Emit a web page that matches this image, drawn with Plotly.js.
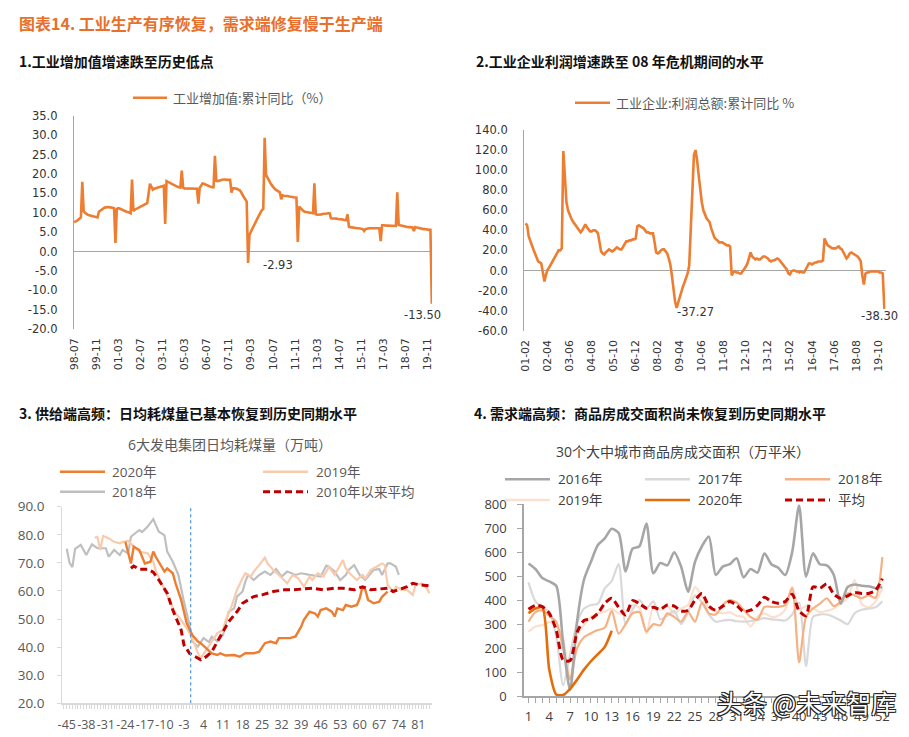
<!DOCTYPE html>
<html><head><meta charset="utf-8">
<script src="https://cdn.plot.ly/plotly-3.0.1.min.js"></script>
<style>html,body{margin:0;padding:0;background:#fff}#chart{width:909px;height:737px}</style>
</head><body><div id="chart"></div>
<script>
const W = 909, H = 737;
const px = x => x / W, py = y => 1 - y / H;

// ---------- Panel 1: 工业增加值:累计同比 (monthly, 1998-07 .. 2020-02)
const p1TickText = ['98-07','99-11','01-03','02-07','03-11','05-03','06-07','07-11','09-03','10-07','11-11','13-03','14-07','15-11','17-03','18-07','19-11'];
const p1Values = [
 7.6,7.7,7.9,8.2,8.5,8.8,
 18.0,
 10.4,10.0,9.7,9.5,9.4,9.3,9.3,9.1,9.0,8.9,8.8,
 10.3,10.6,10.9,11.1,11.3,11.4,11.5,11.5,11.4,11.4,11.3,11.2,
 2.2,
 11.0,11.2,11.1,10.9,10.8,10.6,10.5,10.3,10.2,10.0,9.9,
 18.6,
 10.5,10.8,11.0,11.2,11.4,11.6,11.8,11.9,12.1,12.3,12.5,
 15.0,17.5,16.8,16.0,16.2,16.3,16.4,16.5,16.6,16.7,16.8,17.0,
 7.1,
 18.2,18.0,17.8,17.5,17.3,17.2,17.0,16.8,16.7,16.6,16.5,
 20.9,
 16.5,16.3,16.3,16.2,16.2,16.2,16.3,16.3,16.3,16.2,16.2,
 12.4,
 16.5,17.0,17.6,17.5,17.3,17.2,17.0,16.9,16.7,16.6,16.6,
 24.7,
 18.3,18.2,18.3,18.5,18.5,18.6,18.6,18.5,18.5,18.5,18.5,
 15.2,16.3,16.3,16.3,16.2,16.0,15.8,15.3,14.5,14.0,13.5,12.9,
 -2.93,
 4.3,5.1,5.9,6.6,7.3,8.0,8.7,9.4,10.1,10.7,11.0,
 29.4,
 19.8,19.0,18.5,17.8,17.2,16.6,16.3,16.0,15.7,15.5,15.3,
 13.5,
 14.5,14.4,14.4,14.3,14.3,14.2,14.2,14.1,14.0,13.9,13.9,
 2.5,
 11.6,11.2,10.8,10.5,10.3,10.2,10.1,10.0,9.9,9.9,9.9,
 17.6,
 9.6,9.5,9.5,9.6,9.6,9.7,9.7,9.8,9.8,9.9,9.9,
 8.6,8.6,8.5,8.5,8.5,8.4,8.4,8.3,8.3,8.2,8.2,8.1,
 9.6,
 6.4,6.3,6.2,6.2,6.1,6.1,6.0,6.0,5.9,5.9,5.8,
 5.3,
 5.8,5.9,6.0,6.0,6.0,6.0,6.0,6.0,6.0,6.0,6.0,
 2.7,
 6.8,6.8,6.7,6.7,6.7,6.7,6.6,6.6,6.6,6.6,6.6,
 15.3,
 6.9,6.8,6.7,6.6,6.5,6.4,6.4,6.3,6.3,6.2,6.2,
 5.3,
 6.3,6.2,6.1,6.0,5.9,5.9,5.8,5.8,5.7,5.7,5.6,5.6,
 -13.5
];
const p1YTicks = [-20,-15,-10,-5,0,5,10,15,20,25,30,35];

// ---------- Panel 2: 工业企业:利润总额:累计同比 (monthly, 2001-02 .. 2020-02)
const p2TickText = ['01-02','02-04','03-06','04-08','05-10','06-12','08-02','09-04','10-06','11-08','12-10','13-12','15-02','16-04','17-06','18-08','19-10'];
const p2Values = [
 47,45,34,29,25,21,17,12,9,8,
 7,-2,-11,-4,1,3,6,8,11,14,
 17,20,20,22,119,90,68,60,55,52,
 49,47,44,42,40,38,40,44,46,43,
 41,39,39,40,40,39,37,28,19,17,
 16,18,20,21,20,19,20,22,23,22,
 21,21,24,27,29,29,30,30,31,31,
 32,44,45,44,43,42,40,38,38,37,
 37,37,28,18,17,18,20,21,21,19,
 17,12,6,-5,-20,-31,-37.27,-32,-25,-20,
 -16,-12,-8,-3,5,40,90,115,120,110,
 95,80,68,60,55,52,50,48,42,37,
 33,31,30,28,28,28,27,26,25,25,
 24,-5,-2,-1,-2,-2,-3,-3,-1,1,
 4,7,12,18,14,12,11,12,11,11,
 13,14,14,13,12,10,9,10,10,11,
 12,11,9,7,5,4,1,-3,-4,-1,
 0,0,-1,-1,-2,-1,-2,-2,1,5,
 7,7,6,7,8,8,9,9,9,10,
 32,28,25,24,23,22,22,22,23,24,
 22,21,18,15,12,14,17,18,17,16,
 15,14,12,9,-5,-14,-3,-2,-2,-1,
 -1,-1,-1,-1,-1,-2,-2,-3,-38.3
];
const p2YTicks = [-60,-40,-20,0,20,40,60,80,100,120,140];

// ---------- Panel 3: 6大发电集团日均耗煤量（万吨）, days around Spring Festival
const p3TickVals = [-45,-38,-31,-24,-17,-10,-3,4,11,18,25,32,39,46,53,60,67,74,81];
const p3Days2018 = [-45,-44,-43,-42,-40,-38,-36,-34,-31,-30,-28,-26,-25,-23,-22,-19,-18,-16,-14,-12,-10,-9,-7,-5,-3,-1,0,2,4,6,7,9,11,13,15,16,18,19,20,22,24,26,28,30,32,34,37,39,42,44,46,48,49,51,53,55,56,58,60,62,64,65,67,68,70,71,73,74];
const p3Vals2018 = [75,70,68.5,75,76.4,72.8,76.6,75.2,75.2,72.2,74.6,72.8,74.6,73.4,79.3,81.7,81,82.9,85.6,81.1,79.9,74,70.4,65.7,56.2,47.9,42,40.2,43.2,41.8,43.7,42,44.3,52.6,53.8,58,59.8,63.3,65.7,63.9,65.7,66.9,65.7,67.8,65.1,66.9,65.7,66.3,65.7,65.4,65.1,69,68.6,66.9,63.9,65.7,67.5,69.2,65.7,63.9,66.3,67.5,67.8,65.7,69.8,69.8,68.6,65.7];
const p3Days2019 = [-35,-34,-33,-32,-30,-28,-26,-25,-23,-21,-19,-16,-14,-13,-11,-9,-7,-6,-4,-2,0,2,3,5,7,9,11,12,14,16,18,19,21,22,24,26,27,29,31,33,34,36,38,40,42,43,45,47,49,51,52,54,55,57,59,61,62,64,66,68,69,70,72,73,75,77,79,80,82,84,85];
const p3Vals2019 = [79,79.2,74.6,79.6,78.8,77.5,77,77.5,77.8,75.8,74,73.4,70.4,66.9,62.7,58.6,54.4,52,49.7,46.7,43.2,37.8,36,39,42,45,46.1,49.7,54.4,60.4,64.5,66.3,65.1,66.9,69.2,71.9,69.8,67.5,65.7,63.9,62.7,65.7,64.5,61.5,65.1,63.9,66.3,65.1,68.6,65.7,67.5,71,68,65.7,63.9,65.7,64.5,67.5,68.6,69.8,69.2,62.1,59.8,61.5,60.4,60.4,58.6,62.1,62.7,61,59.2];
const p3Days2020 = [-24,-22,-21,-19,-17,-15,-14,-13,-10,-9,-7,-6,-4,-2,0,2,3,5,7,9,10,12,15,17,19,22,24,26,28,30,31,33,35,37,39,40,42,44,45,46,48,50,51,52,54,55,57,59,60,61,62,63,65,67,68,70];
const p3Vals2020 = [77.5,69.8,75.8,74.6,69.8,70.4,74,72,66.9,68,66.3,62.7,56.8,48.5,44.3,42,41.4,39.6,37.8,37.2,37.8,37,37.2,36.6,37.8,37.8,38.4,41.4,42,41.4,43.2,43.2,43.2,43.8,47.3,49.7,52.6,52,50.9,53.2,53.8,52.6,50.9,53.8,53.2,55,54.4,55,57.4,61.5,60.4,56.8,55.6,56.2,57.9,59.8];
const p3DaysAvg = [-22,-21,-19,-16,-14,-12,-9,-7,-4,-3,-1,2,3,5,7,9,11,13,16,18,22,25,29,33,36,40,43,47,51,54,58,61,64,66,70,72,74,77,79,82,85];
const p3ValsAvg = [68.1,68.9,67.7,67.7,66.7,63.9,59.2,53.2,46.1,40.8,37.8,36,35.5,36.6,38.4,42,45.5,49,52.6,55.6,58,58.6,59.8,60.4,60.4,60.6,61,60.4,61,61,60.4,61.5,60.4,60.6,61,59.8,60.4,61.5,62.7,62.1,61.8];
const p3YTicks = [20,30,40,50,60,70,80,90];

// ---------- Panel 4: 30个大中城市商品房成交面积（万平米）, weeks 1..52
const p4Weeks = [1,2,3,4,5,6,7,8,9,10,11,12,13,14,15,16,17,18,19,20,21,22,23,24,25,26,27,28,29,30,31,32,33,34,35,36,37,38,39,40,41,42,43,44,45,46,47,48,49,50,51,52];
const p4TickVals = [1,4,7,10,13,16,19,22,25,28,31,34,37,40,43,46,49,52];
const p4_2016 = [553,530,492,478,460,220,25,310,485,560,630,658,698,680,520,615,625,720,512,555,545,600,540,435,560,625,665,505,540,550,575,495,530,515,595,550,535,505,600,795,498,595,550,545,505,385,455,465,460,458,450,455];
const p4_2017 = [474,395,370,350,250,45,175,303,365,380,385,449,480,550,300,360,400,365,395,320,335,355,300,350,420,390,340,310,315,318,312,310,312,318,325,320,318,315,340,390,125,330,340,340,330,315,300,345,360,365,370,395];
const p4_2018 = [310,350,358,335,310,200,70,200,245,262,275,285,355,260,300,345,350,270,300,295,345,330,310,350,310,390,345,340,380,400,390,360,330,318,372,372,372,380,450,140,330,365,385,408,375,394,428,420,408,420,410,580];
const p4_2019 = [268,290,296,308,290,240,65,255,296,330,345,352,365,345,350,380,368,260,370,360,375,345,365,380,455,415,365,352,345,350,335,330,290,330,345,330,335,360,455,360,375,366,350,355,365,385,410,484,385,370,395,450];
const p4_2020 = [345,365,370,110,6,4,30,68,110,145,175,205,272];
const p4_avg = [362,378,373,345,275,150,148,265,315,322,345,387,408,370,338,398,385,366,370,362,380,375,355,358,400,428,375,358,375,394,378,352,358,378,412,394,387,394,425,355,335,455,450,468,425,408,418,432,428,428,440,490];
const p4YTicks = [0,100,200,300,400,500,600,700,800];

// ---------- helpers
const idx = arr => arr.map((_, i) => i);
const fmt1 = v => v.toFixed(1);
const ORANGE = '#ED7D31';
const CJK = 'Noto Sans CJK SC';
const NUM = 'DejaVu Sans';
const NUM2 = 'Open Sans, Noto Sans CJK SC';
const GRAYTXT = '#595959';

const traces = [
  {x: idx(p1Values), y: p1Values, xaxis: 'x', yaxis: 'y', type: 'scatter', mode: 'lines',
   line: {color: ORANGE, width: 2.6}, showlegend: false, hoverinfo: 'skip'},
  {x: idx(p2Values), y: p2Values, xaxis: 'x2', yaxis: 'y2', type: 'scatter', mode: 'lines',
   line: {color: ORANGE, width: 2.6}, showlegend: false, hoverinfo: 'skip'},
  {x: p3Days2018, y: p3Vals2018, xaxis: 'x3', yaxis: 'y3', mode: 'lines', line: {color: '#BFBFBF', width: 2.2}, showlegend: false},
  {x: p3Days2019, y: p3Vals2019, xaxis: 'x3', yaxis: 'y3', mode: 'lines', line: {color: '#F8CBAD', width: 2.2}, showlegend: false},
  {x: p3Days2020, y: p3Vals2020, xaxis: 'x3', yaxis: 'y3', mode: 'lines', line: {color: ORANGE, width: 2.4}, showlegend: false},
  {x: p3DaysAvg, y: p3ValsAvg, xaxis: 'x3', yaxis: 'y3', mode: 'lines', line: {color: '#C00000', width: 3, dash: '7px,4px'}, showlegend: false},
  {x: p4Weeks, y: p4_2019, xaxis: 'x4', yaxis: 'y4', mode: 'lines', line: {color: '#FBE0CE', width: 2.2, shape: 'spline', smoothing: 0.7}, showlegend: false},
  {x: p4Weeks, y: p4_2017, xaxis: 'x4', yaxis: 'y4', mode: 'lines', line: {color: '#D9D9D9', width: 2.2, shape: 'spline', smoothing: 0.7}, showlegend: false},
  {x: p4Weeks, y: p4_2018, xaxis: 'x4', yaxis: 'y4', mode: 'lines', line: {color: '#F4B183', width: 2.2, shape: 'spline', smoothing: 0.7}, showlegend: false},
  {x: p4Weeks, y: p4_2016, xaxis: 'x4', yaxis: 'y4', mode: 'lines', line: {color: '#A6A6A6', width: 2.6, shape: 'spline', smoothing: 0.7}, showlegend: false},
  {x: p4Weeks.slice(0, p4_2020.length), y: p4_2020, xaxis: 'x4', yaxis: 'y4', mode: 'lines', line: {color: '#E46C0A', width: 2.6, shape: 'spline', smoothing: 0.7}, showlegend: false},
  {x: p4Weeks, y: p4_avg, xaxis: 'x4', yaxis: 'y4', mode: 'lines', line: {color: '#C00000', width: 3, dash: '7px,4px', shape: 'spline', smoothing: 0.7}, showlegend: false}
];

const noGrid = {showgrid: false, zeroline: false};
const layout = {
  width: W, height: H, margin: {l: 0, r: 0, t: 0, b: 0},
  paper_bgcolor: '#fff', plot_bgcolor: 'rgba(0,0,0,0)',
  font: {family: NUM, color: '#333'},
  xaxis: {...noGrid, domain: [px(74), px(432.1)], anchor: 'y', range: [0, 259.2],
    tickmode: 'array', tickvals: p1TickText.map((_, i) => i * 16), ticktext: p1TickText,
    tickangle: -90, ticks: '', ticklabelstandoff: 6, showline: false,
    tickfont: {family: NUM, size: 11, color: '#333'}},
  yaxis: {showgrid: false, domain: [py(329), py(116)], anchor: 'x', range: [-20, 35],
    zeroline: true, zerolinecolor: '#A6A6A6', zerolinewidth: 1.5,
    showline: true, linecolor: '#A6A6A6', linewidth: 1.2, ticks: '', ticklabelstandoff: 13,
    tickmode: 'array', tickvals: p1YTicks, ticktext: p1YTicks.map(fmt1),
    tickfont: {family: NUM, size: 11.5, color: '#333'}},
  xaxis2: {...noGrid, domain: [px(524.3), px(885.6)], anchor: 'y2', range: [-0.8, 228.8],
    tickmode: 'array', tickvals: p2TickText.map((_, i) => i * 14), ticktext: p2TickText,
    tickangle: -90, ticks: '', ticklabelstandoff: 6, showline: false,
    tickfont: {family: NUM, size: 11, color: '#333'}},
  yaxis2: {showgrid: false, domain: [py(330.7), py(130)], anchor: 'x2', range: [-60, 140],
    zeroline: true, zerolinecolor: '#A6A6A6', zerolinewidth: 1.5,
    showline: true, linecolor: '#A6A6A6', linewidth: 1.2, ticks: '', ticklabelstandoff: 13,
    tickmode: 'array', tickvals: p2YTicks, ticktext: p2YTicks.map(fmt1),
    tickfont: {family: NUM, size: 11.5, color: '#333'}},
  xaxis3: {...noGrid, domain: [px(62.3), px(431.7)], anchor: 'y3', range: [-46.6, 85.8],
    tickmode: 'array', tickvals: p3TickVals, ticktext: p3TickVals.map(String),
    tickangle: 0, automargin: false,
    showline: true, linecolor: '#D9D9D9', linewidth: 2,
    ticks: 'outside', ticklen: 4, tickcolor: '#D9D9D9', ticklabelstandoff: 5,
    minor: {tickmode: 'linear', tick0: -45, dtick: 1, ticks: 'outside', ticklen: 4, tickcolor: '#D9D9D9', showgrid: false},
    tickfont: {family: NUM2, size: 12.5, color: GRAYTXT}},
  yaxis3: {...noGrid, domain: [py(703.3), py(506.7)], anchor: 'x3', range: [20, 90],
    showline: true, linecolor: '#D9D9D9', linewidth: 1.2,
    ticks: 'outside', ticklen: 4, tickcolor: '#D9D9D9', ticklabelstandoff: 10,
    tickmode: 'array', tickvals: p3YTicks, ticktext: p3YTicks.map(fmt1),
    tickfont: {family: NUM2, size: 13.5, color: GRAYTXT}},
  xaxis4: {...noGrid, domain: [px(524.3), px(890)], anchor: 'y4', range: [0.4, 53.1],
    tickmode: 'array', tickvals: p4TickVals, ticktext: p4TickVals.map(String),
    tickangle: 0, automargin: false,
    showline: true, linecolor: '#A6A6A6', linewidth: 1.5,
    ticks: 'outside', ticklen: 5, tickcolor: '#A6A6A6', ticklabelstandoff: 3,
    minor: {tickmode: 'linear', tick0: 1, dtick: 1, ticks: 'outside', ticklen: 5, tickcolor: '#A6A6A6', showgrid: false},
    tickfont: {family: NUM2, size: 13, color: '#404040'}},
  yaxis4: {...noGrid, domain: [py(696), py(504.3)], anchor: 'x4', range: [0, 800],
    showline: true, linecolor: '#A6A6A6', linewidth: 2,
    ticks: 'outside', ticklen: 5, tickcolor: '#A6A6A6', ticklabelstandoff: 8,
    tickmode: 'array', tickvals: p4YTicks, ticktext: p4YTicks.map(String),
    tickfont: {family: NUM2, size: 13, color: '#404040'}},
  shapes: [],
  annotations: []
};

const ann = (text, x, y, opt = {}) => layout.annotations.push(Object.assign({
  text, x: px(x), y: py(y), xref: 'paper', yref: 'paper', showarrow: false,
  xanchor: 'left', yanchor: 'middle', font: {family: CJK, size: 13, color: GRAYTXT}
}, opt));
const legLine = (x0, x1, y, color, width, dash) => layout.shapes.push({
  type: 'line', xref: 'paper', yref: 'paper', x0: px(x0), x1: px(x1), y0: py(y), y1: py(y),
  line: {color, width, dash: dash || 'solid'}
});

// titles
ann('图表14. 工业生产有序恢复，需求端修复慢于生产端', 17, 23, {font: {family: CJK, size: 16, color: '#E8702A', weight: 'bold'}});
ann('1.工业增加值增速跌至历史低点', 17, 61, {font: {family: CJK, size: 14, color: '#111', weight: 'bold'}});
ann('2.工业企业利润增速跌至 08 年危机期间的水平', 474, 61, {font: {family: CJK, size: 14, color: '#111', weight: 'bold'}});
ann('3. 供给端高频：日均耗煤量已基本恢复到历史同期水平', 17, 413, {font: {family: CJK, size: 14, color: '#111', weight: 'bold'}});
ann('4. 需求端高频：商品房成交面积尚未恢复到历史同期水平', 472, 413, {font: {family: CJK, size: 14, color: '#111', weight: 'bold'}});

// panel 1 legend
legLine(133, 167, 97.7, ORANGE, 2.6);
ann('工业增加值:累计同比（%）', 171, 97.7, {font: {family: CJK, size: 13, color: GRAYTXT}});
// panel 2 legend
legLine(575, 610, 102.7, ORANGE, 2.6);
ann('工业企业:利润总额:累计同比 %', 614, 102.7, {font: {family: CJK, size: 13, color: GRAYTXT}});

// data labels
layout.annotations.push({text: '-2.93', x: 147.5, y: -3.4, xref: 'x', yref: 'y', showarrow: false, font: {family: NUM, size: 11.5, color: '#333'}});
layout.annotations.push({text: '-13.50', x: 252.6, y: -16.4, xref: 'x', yref: 'y', showarrow: false, font: {family: NUM, size: 11.5, color: '#333'}});
layout.annotations.push({text: '-37.27', x: 107.9, y: -41, xref: 'x2', yref: 'y2', showarrow: false, font: {family: NUM, size: 11.5, color: '#333'}});
layout.annotations.push({text: '-38.30', x: 224.9, y: -45.3, xref: 'x2', yref: 'y2', showarrow: false, font: {family: NUM, size: 11.5, color: '#333'}});

// panel 3 title + legend
ann('6大发电集团日均耗煤量（万吨）', 230, 444, {xanchor: 'center', font: {family: NUM2, size: 14, color: GRAYTXT}});
legLine(60, 105, 471.7, ORANGE, 2.6);
ann('2020年', 110, 471.7, {font: {family: NUM2, size: 13.5, color: GRAYTXT}});
legLine(263, 308, 471.7, '#F8CBAD', 2.4);
ann('2019年', 314, 471.7, {font: {family: NUM2, size: 13.5, color: GRAYTXT}});
legLine(60, 105, 491.7, '#BFBFBF', 2.4);
ann('2018年', 110, 491.7, {font: {family: NUM2, size: 13.5, color: GRAYTXT}});
legLine(263, 308, 491.7, '#C00000', 3, '7px,4px');
ann('2010年以来平均', 314, 491.7, {font: {family: NUM2, size: 13.5, color: GRAYTXT}});
layout.shapes.push({type: 'line', xref: 'x3', yref: 'y3', x0: -0.6, x1: -0.6, y0: 20, y1: 89.5,
  line: {color: '#5B9BD5', width: 1.3, dash: 'dot'}});

// panel 4 title + legend
ann('30个大中城市商品房成交面积（万平米）', 683, 451, {xanchor: 'center', font: {family: NUM2, size: 14, color: '#404040'}});
legLine(505, 550, 479.3, '#A6A6A6', 2.6);
ann('2016年', 556, 479.3, {font: {family: NUM2, size: 13.5, color: '#404040'}});
legLine(645, 690, 479.3, '#D9D9D9', 2.6);
ann('2017年', 696, 479.3, {font: {family: NUM2, size: 13.5, color: '#404040'}});
legLine(785, 830, 479.3, '#F4B183', 2.6);
ann('2018年', 836, 479.3, {font: {family: NUM2, size: 13.5, color: '#404040'}});
legLine(505, 550, 500, '#FBE0CE', 2.6);
ann('2019年', 556, 500, {font: {family: NUM2, size: 13.5, color: '#404040'}});
legLine(645, 690, 500, '#E46C0A', 2.6);
ann('2020年', 696, 500, {font: {family: NUM2, size: 13.5, color: '#404040'}});
legLine(785, 830, 500, '#C00000', 3, '7px,4px');
ann('平均', 836, 500, {font: {family: NUM2, size: 13.5, color: '#404040'}});

// watermark
ann('头条 @未来智库', 806, 702, {xanchor: 'center', font: {family: CJK, size: 25, color: '#ffffff',
  shadow: '1px 1px 0 #222, -1px -1px 0 #222, 1px -1px 0 #222, -1px 1px 0 #222'}});

Plotly.newPlot('chart', traces, layout, {staticPlot: true, displayModeBar: false});
</script>
</body></html>
